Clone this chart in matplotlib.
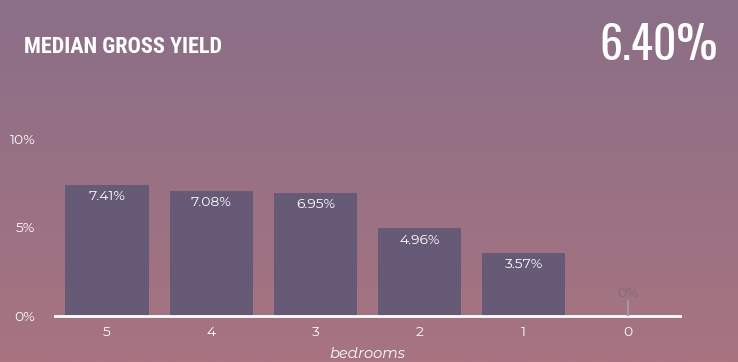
import numpy as np
import matplotlib
matplotlib.use('Agg')
import matplotlib.pyplot as plt

bedrooms = ['5', '4', '3', '2', '1', '0']
yields = [7.41, 7.08, 6.95, 4.96, 3.57, 0.0]
value_labels = ['7.41%', '7.08%', '6.95%', '4.96%', '3.57%', '0%']
yticks = [0, 5, 10]
ytick_labels = ['0%', '5%', '10%']
title = 'MEDIAN GROSS YIELD'
headline = '6.40%'

body = ['Montserrat Alternates', 'DejaVu Sans']

fig = plt.figure(figsize=(7.38, 3.62), dpi=100)
# vertical gradient background
bg = fig.add_axes([0, 0, 1, 1], zorder=-1)
grad = np.linspace(0, 1, 256)[:, None]
top = np.array([138, 111, 136]) / 255
bot = np.array([168, 116, 128]) / 255
img = top[None, None, :] * (1 - grad[:, :, None]) + bot[None, None, :] * grad[:, :, None]
bg.imshow(img, aspect='auto', extent=[0, 1, 0, 1])
bg.axis('off')

ax = fig.add_axes([55 / 738, 46 / 362, 625 / 738, 177 / 362])
ax.patch.set_alpha(0)
x = np.arange(len(bedrooms))
bar_c = '#665a77'
ax.bar(x, yields, width=0.8, color=bar_c, zorder=2)
for xi, v, lab in zip(x, yields, value_labels):
    if v > 0:
        ax.text(xi, v - 0.3, lab, ha='center', va='top', color='white', fontsize=10, family=body)
    else:
        ax.plot([xi, xi], [0, 0.85], color='#a09aa0', lw=1.5, zorder=3)
        ax.text(xi, 0.9, lab, ha='center', va='bottom', color='#7f6a80', fontsize=10, family=body)

ax.set_xlim(-0.5, 5.5)
ax.set_ylim(0, 10)
ax.set_xticks(x)
ax.set_xticklabels(bedrooms, color='white', fontsize=10, family=body)
ax.set_yticks(yticks)
ax.set_yticklabels(ytick_labels, color='white', fontsize=10, family=body)
ax.tick_params(length=0, pad=7)
ax.tick_params(axis='y', pad=14)
for s in ['top', 'right', 'left']:
    ax.spines[s].set_visible(False)
ax.spines['bottom'].set_color('white')
ax.spines['bottom'].set_linewidth(2)
ax.set_xlabel('bedrooms', color='white', fontsize=10.5, style='italic', family=body, labelpad=6)

fig.text(24 / 738, 1 - 47 / 362, title, color='white', fontsize=16, fontweight='bold',
         family=['Roboto Condensed', 'DejaVu Sans'], va='center', ha='left')
fig.text(718 / 738, 1 - 45 / 362, headline, color='white', fontsize=33,
         family=['Oswald', 'DejaVu Sans'], va='center', ha='right')

fig.savefig('out.png', dpi=100)
